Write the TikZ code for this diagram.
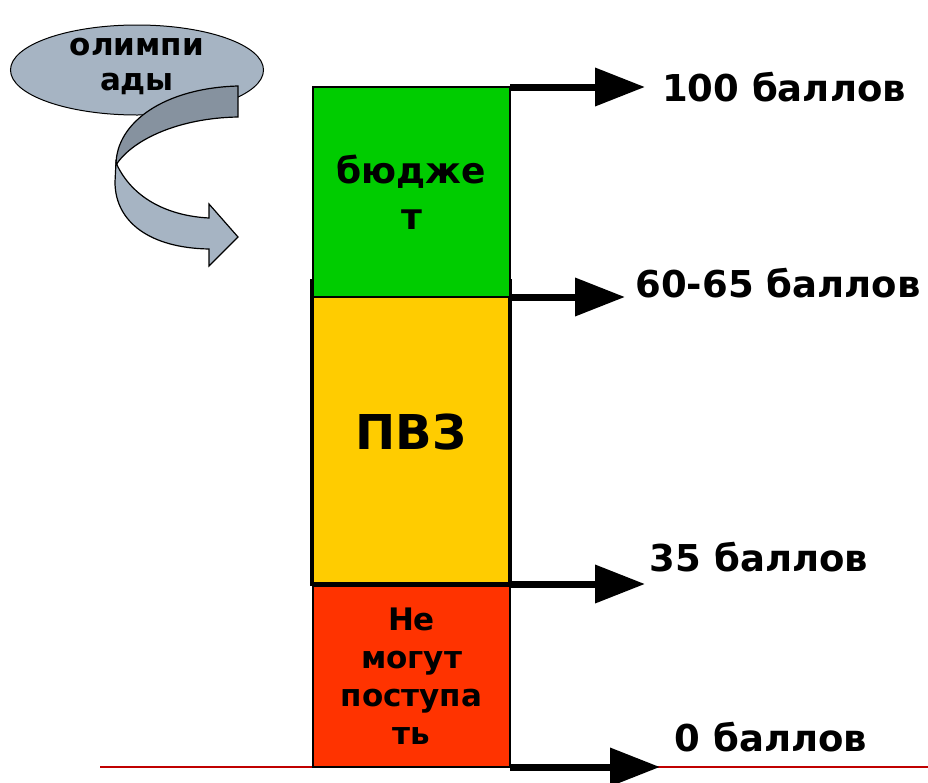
\documentclass[tikz,border=0pt]{standalone}
\usepackage{fontspec}
\setmainfont{DejaVu Sans}
\usetikzlibrary{arrows.meta, shapes.geometric}

\definecolor{budgetgreen}{HTML}{00CC00}
\definecolor{pvzyellow}{HTML}{FFCC00}
\definecolor{failred}{HTML}{FF3300}
\definecolor{olympgray}{HTML}{A6B4C3}
\definecolor{olympdark}{HTML}{86929F}
\definecolor{zerolinered}{HTML}{C00000}

\begin{document}
\begin{tikzpicture}[x=1pt,y=-1pt,
  box/.style={rectangle,draw,inner sep=0pt,outer sep=0pt,anchor=north west,
    align=center,font=\bfseries,minimum width=197pt},
  level arrow/.style={line width=7pt,-{Triangle[length=50pt,width=37pt]}},
  score/.style={font=\fontsize{37}{44}\selectfont\bfseries}]
  \useasboundingbox (0,0) rectangle (928,782);

  % zero line
  \coordinate (line0) at (100,767);
  \coordinate (line1) at (928,767);
  \draw[zerolinered,line width=1.5pt] (line0) -- (line1);

  % the column
  \node[box,fill=failred,line width=1.5pt,minimum height=181pt,
    font=\fontsize{31}{38}\selectfont\bfseries] (fail) at (313,586)
    {Не\\могут\\поступа\\ть};
  \node[box,fill=pvzyellow,line width=4pt,minimum width=198pt,minimum height=303pt,
    font=\fontsize{48}{56}\selectfont\bfseries] (pvz) at (312,281) {\raisebox{-10pt}{ПВЗ}};
  \node[box,fill=budgetgreen,line width=1.5pt,minimum height=210pt,
    font=\fontsize{36}{46}\selectfont\bfseries] (budget) at (313,87) {бюдже\\т};

  % olympiads
  \node[ellipse,draw,fill=olympgray,line width=1pt,minimum width=253pt,
    minimum height=90pt] (olymp) at (137,70) {};
  \node[font=\fontsize{31}{35}\selectfont\bfseries,align=center] (olymptext)
    at (137,66) {олимпи\\ады};
  \draw[fill=olympdark,line width=1.2pt] (238,86) .. controls (165,88) and (116,122) .. (116,165)
    .. controls (132,140) and (178,118) .. (238,117) -- cycle;
  \draw[fill=olympgray,line width=1.2pt] (118,167) .. controls (135,200) and (170,216) .. (209,218)
    -- (209,204) -- (238,237) -- (209,266) -- (209,249)
    .. controls (150,248) and (115,222) .. (115,182) -- (116,162) -- cycle;

  % score levels
  \coordinate (tip100) at (645,87);
  \coordinate (tip60) at (625,297);
  \coordinate (tip35) at (645,584);
  \coordinate (tip0) at (660,767);
  \draw[level arrow] (budget.north east) -- (tip100);
  \draw[level arrow] (budget.south east) -- (tip60);
  \draw[level arrow] (pvz.south east) -- (tip35);
  \draw[level arrow] (fail.south east) -- (tip0);

  \node[score] (s100) at (784,87) {100 баллов};
  \node[score] (s60) at (778,283) {60-65 баллов};
  \node[score] (s35) at (759,557) {35 баллов};
  \node[score] (s0) at (771,737) {0 баллов};
\end{tikzpicture}
\end{document}
